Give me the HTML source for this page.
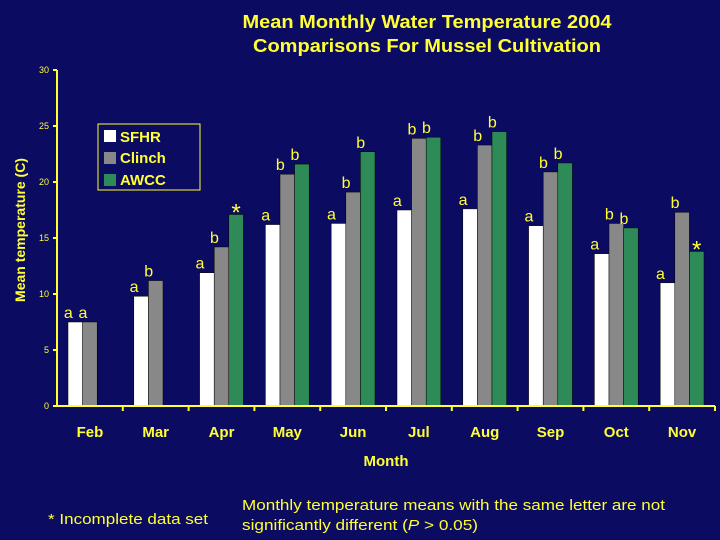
<!DOCTYPE html>
<html><head><meta charset="utf-8"><style>
body{margin:0;background:#0b0b62;}
svg{display:block;font-family:"Liberation Sans",Arial,sans-serif;}
</style></head><body>
<svg id="c" width="720" height="540">
<rect width="720" height="540" fill="#0b0b62"/>
<text x="427" y="28" fill="#ffff33" font-size="18" font-weight="bold" text-anchor="middle" textLength="369" lengthAdjust="spacingAndGlyphs">Mean Monthly Water Temperature 2004</text>
<text x="427" y="52" fill="#ffff33" font-size="18" font-weight="bold" text-anchor="middle" textLength="348" lengthAdjust="spacingAndGlyphs">Comparisons For Mussel Cultivation</text>
<text x="25" y="230" fill="#ffff33" font-size="14" font-weight="bold" text-anchor="middle" transform="rotate(-90 25 230)">Mean temperature (C)</text>
<text x="386" y="466" fill="#ffff33" font-size="15" font-weight="bold" text-anchor="middle">Month</text>
<g id="bars"></g><g id="axes"></g>
<g>
<rect x="98" y="124" width="102" height="66" fill="none" stroke="#ffff33" stroke-width="1"/>
<rect x="104" y="130" width="12" height="12" fill="#ffffff"/>
<text x="120" y="142" fill="#ffff33" font-size="15" font-weight="bold">SFHR</text>
<rect x="104" y="152" width="12" height="12" fill="#888888"/>
<text x="120" y="163" fill="#ffff33" font-size="15" font-weight="bold">Clinch</text>
<rect x="104" y="174" width="12" height="12" fill="#2e8b57"/>
<text x="120" y="185" fill="#ffff33" font-size="15" font-weight="bold">AWCC</text>
</g>
<text x="48" y="524" fill="#ffff33" font-size="15" textLength="160" lengthAdjust="spacingAndGlyphs">* Incomplete data set</text>
<text x="242" y="510" fill="#ffff33" font-size="15" textLength="423" lengthAdjust="spacingAndGlyphs">Monthly temperature means with the same letter are not</text>
<text x="242" y="530" fill="#ffff33" font-size="15" textLength="236" lengthAdjust="spacingAndGlyphs">significantly different (<tspan font-style="italic">P</tspan> &gt; 0.05)</text>
</svg>
<script>
const months=["Feb","Mar","Apr","May","Jun","Jul","Aug","Sep","Oct","Nov"];
const sfhr=[7.5,9.8,11.9,16.2,16.3,17.5,17.6,16.1,13.6,11.0];
const clinch=[7.5,11.2,14.2,20.7,19.1,23.9,23.3,20.9,16.3,17.3];
const awcc=[null,null,17.1,21.6,22.7,24.0,24.5,21.7,15.9,13.8];
const sfhrLbl=["a","a","a","a","a","a","a","a","a","a"];
const clinchLbl=["a","b","b","b","b","b","b","b","b","b"];
const awccLbl=["","","*","b","b","b","b","b","b","*"];
const yTicks=[0,5,10,15,20,25,30];
const NS="http://www.w3.org/2000/svg";
const x0=57,cw=65.8,y0=406,yk=11.2,bw=14.6;
function yS(v){return y0-v*yk;}
function xS(i,s){return x0+11+i*cw+s*bw;}
const bars=document.getElementById('bars'),axes=document.getElementById('axes');
function mk(tag,at,par){const e=document.createElementNS(NS,tag);for(const k in at)e.setAttribute(k,at[k]);par.appendChild(e);return e;}
const series=[[sfhr,sfhrLbl,"#ffffff","sfhr"],[clinch,clinchLbl,"#888888","clinch"],[awcc,awccLbl,"#2e8b57","awcc"]];
series.forEach((s,si)=>{s[0].forEach((v,i)=>{if(v==null)return;
const r=mk('rect',{x:xS(i,si),y:yS(v),width:bw,height:v*yk,fill:s[2],stroke:"#000",'stroke-width':0.5},bars);


const l=s[1][i];if(l){const star=l==="*";
const t=mk('text',{x:xS(i,si)+bw/2-(star?0:7),y:yS(v)-(star?-6:4),fill:"#ffff33",'font-size':star?24:16,'text-anchor':'middle'},bars);
t.textContent=l;

}
});});
const ax=mk('path',{d:`M${x0} ${yS(30)}V${y0}H715`,stroke:"#ffff33",'stroke-width':2,fill:"none"},axes);


yTicks.forEach(v=>{mk('line',{x1:x0-4,x2:x0,y1:yS(v),y2:yS(v),stroke:"#ffff33",'stroke-width':2},axes);
const t=mk('text',{x:x0-8,y:yS(v)+3,fill:"#ffff33",'font-size':9,'text-anchor':'end'},axes);t.textContent=v;

});
months.forEach((m,i)=>{const xx=x0+(i+1)*cw;mk('line',{x1:xx,x2:xx,y1:y0,y2:y0+5,stroke:"#ffff33",'stroke-width':2},axes);
const t=mk('text',{x:x0+(i+0.5)*cw,y:437,fill:"#ffff33",'font-size':15,'font-weight':'bold','text-anchor':'middle'},axes);t.textContent=m;

});
</script>
</body></html>
